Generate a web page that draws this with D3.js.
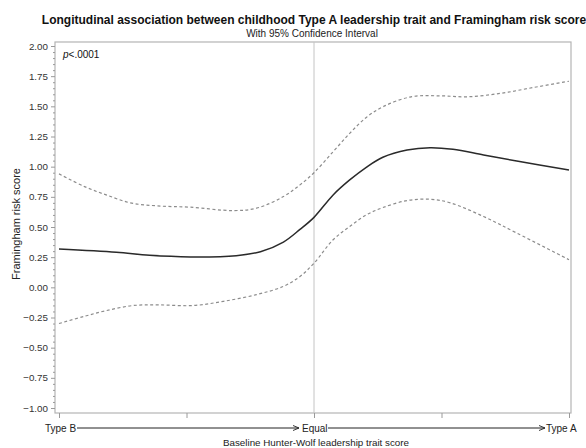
<!DOCTYPE html>
<html>
<head>
<meta charset="utf-8">
<script src="https://cdn.jsdelivr.net/npm/d3@7"></script>
<style>
  body { margin: 0; background: #fff; }
  svg { display: block; font-family: "Liberation Sans", Arial, sans-serif; }
</style>
</head>
<body>
<div class="svg"></div>
<script>
// data (x: -2 = Type B, 0 = Equal, 2 = Type A)
const xs = [-2.0, -1.55, -1.29, -0.97, -0.61, -0.42, -0.24, -0.11, 0.0, 0.15, 0.28, 0.41, 0.54, 0.73, 0.91, 1.09, 1.33, 1.59, 2.0];
const fit = [0.317, 0.29, 0.265, 0.252, 0.262, 0.295, 0.375, 0.48, 0.58, 0.766, 0.89, 0.995, 1.078, 1.138, 1.157, 1.144, 1.097, 1.047, 0.973];

const upX = [-2.0, -1.80, -1.63, -1.44, -1.23, -0.97, -0.63, -0.45, -0.24, -0.11, 0.0, 0.15, 0.28, 0.41, 0.54, 0.76, 0.99, 1.20, 1.46, 1.72, 2.0];
const upper = [0.94, 0.835, 0.766, 0.70, 0.675, 0.664, 0.636, 0.656, 0.752, 0.849, 0.95, 1.124, 1.276, 1.408, 1.496, 1.579, 1.587, 1.579, 1.607, 1.656, 1.708];

const loX = [-2.0, -1.80, -1.63, -1.42, -1.21, -0.95, -0.71, -0.45, -0.24, -0.11, 0.0, 0.15, 0.28, 0.41, 0.54, 0.73, 0.91, 1.07, 1.33, 1.59, 2.0];
const lower = [-0.30, -0.24, -0.193, -0.151, -0.146, -0.151, -0.116, -0.06, 0.008, 0.09, 0.20, 0.394, 0.504, 0.60, 0.661, 0.719, 0.73, 0.70, 0.587, 0.45, 0.229];

const yTicks = [2.00, 1.75, 1.50, 1.25, 1.00, 0.75, 0.50, 0.25, 0.00, -0.25, -0.50, -0.75, -1.00];
const xTicks = [-2, -1, 0, 1, 2];
const xLabels = ["Type B", "Equal", "Type A"];

const width = 586, height = 448;
const fLeft = 55, fRight = 571, fTop = 42, fBottom = 413;

let svg = d3.select('.svg').append('svg').attr('width', width).attr('height', height);

let scaleX = d3.scaleLinear().domain([-2, 2]).range([59, 569]);
let scaleY = d3.scaleLinear().domain([-1, 2]).range([408, 46]);

// titles
svg.append('text').attr('x', 314).attr('y', 24).attr('text-anchor', 'middle')
  .attr('font-size', 12).attr('font-weight', 'bold').attr('fill', '#111')
  .text('Longitudinal association between childhood Type A leadership trait and Framingham risk score');
svg.append('text').attr('x', 312).attr('y', 37).attr('text-anchor', 'middle')
  .attr('font-size', 10).attr('fill', '#222')
  .text('With 95% Confidence Interval');

// frame
svg.append('rect').attr('x', fLeft).attr('y', fTop).attr('width', fRight - fLeft).attr('height', fBottom - fTop)
  .attr('fill', 'none').attr('stroke', '#b4b4b4').attr('stroke-width', 1.2);

// reference line at Equal
svg.append('line').attr('x1', scaleX(0)).attr('x2', scaleX(0)).attr('y1', fTop).attr('y2', fBottom)
  .attr('stroke', '#c4c4c4').attr('stroke-width', 1);

// y axis with minor ticks
let minor = d3.range(-1, 2.0001, 0.05).filter(v => Math.abs(v * 4 - Math.round(v * 4)) > 1e-6);
let gMinor = svg.append('g').attr('transform', 'translate(' + fLeft + ',0)')
  .call(d3.axisLeft(scaleY).tickValues(minor).tickSize(2).tickFormat(''));
let axisY = d3.axisLeft(scaleY).tickValues(yTicks).tickSize(4).tickPadding(3).tickFormat(d3.format('.2f'));
let gy = svg.append('g').attr('transform', 'translate(' + fLeft + ',0)').call(axisY);
[gMinor, gy].forEach(g => {
  g.select('.domain').remove();
  g.selectAll('line').attr('stroke', '#9a9a9a');
});
gy.selectAll('text').attr('font-size', 9.8).attr('fill', '#333').attr('font-family', '"Liberation Sans", Arial, sans-serif');

// x axis ticks (no numeric labels)
let gx = svg.append('g').attr('transform', 'translate(0,' + fBottom + ')')
  .call(d3.axisBottom(scaleX).tickValues(xTicks).tickSize(5).tickFormat(''));
gx.select('.domain').remove();
gx.selectAll('line').attr('stroke', '#9a9a9a');

// x axis category labels with arrows
const ly = 428;
svg.append('defs').append('marker').attr('id', 'arr').attr('viewBox', '0 0 6 6')
  .attr('refX', 6).attr('refY', 3).attr('markerWidth', 6).attr('markerHeight', 6).attr('orient', 'auto')
  .append('path').attr('d', 'M0,0.5 L6,3 L0,5.5').attr('fill', 'none').attr('stroke', '#222').attr('stroke-width', 0.9);

let lab = svg.append('g').attr('font-size', 10).attr('fill', '#222');
lab.append('text').attr('x', scaleX(-2) - 14).attr('y', ly + 3.5).text(xLabels[0]);
lab.append('text').attr('x', scaleX(0) - 12).attr('y', ly + 3.5).text(xLabels[1]);
lab.append('text').attr('x', scaleX(2) - 23).attr('y', ly + 3.5).text(xLabels[2]);
lab.append('line').attr('x1', 77).attr('x2', 299).attr('y1', ly).attr('y2', ly)
  .attr('stroke', '#222').attr('stroke-width', 1).attr('marker-end', 'url(#arr)');
lab.append('line').attr('x1', 328).attr('x2', 545).attr('y1', ly).attr('y2', ly)
  .attr('stroke', '#222').attr('stroke-width', 1).attr('marker-end', 'url(#arr)');

svg.append('text').attr('x', 316).attr('y', 446).attr('text-anchor', 'middle')
  .attr('font-size', 9.8).attr('fill', '#222').text('Baseline Hunter-Wolf leadership trait score');

// y title
svg.append('text').attr('transform', 'translate(19.5,224) rotate(-90)').attr('text-anchor', 'middle')
  .attr('font-size', 11).attr('fill', '#222').text('Framingham risk score');

// p value
let pt = svg.append('text').attr('x', 63).attr('y', 58).attr('font-size', 10).attr('fill', '#111');
pt.append('tspan').attr('font-style', 'italic').text('p');
pt.append('tspan').text('<.0001');

// curves
let line = d3.line().x(d => scaleX(d[0])).y(d => scaleY(d[1])).curve(d3.curveCatmullRom.alpha(0.5));

svg.append('path').datum(d3.zip(upX, upper)).attr('d', line)
  .attr('fill', 'none').attr('stroke', '#8c8c8c').attr('stroke-width', 1.2).attr('stroke-dasharray', '3,2.5');
svg.append('path').datum(d3.zip(loX, lower)).attr('d', line)
  .attr('fill', 'none').attr('stroke', '#8c8c8c').attr('stroke-width', 1.2).attr('stroke-dasharray', '3,2.5');
svg.append('path').datum(d3.zip(xs, fit)).attr('d', line)
  .attr('fill', 'none').attr('stroke', '#2a2a2a').attr('stroke-width', 1.5);
</script>
</body>
</html>
